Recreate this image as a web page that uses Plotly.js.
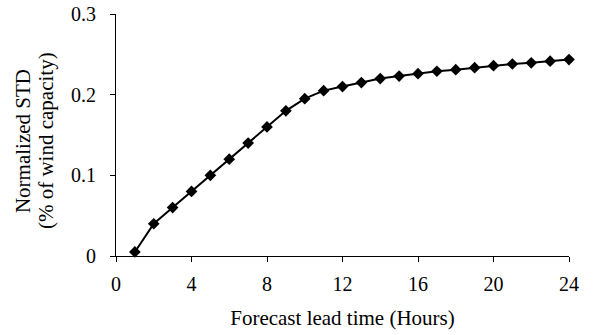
<!DOCTYPE html>
<html>
<head>
<meta charset="utf-8">
<script src="https://cdn.plot.ly/plotly-3.0.1.min.js"></script>
<style>html,body{margin:0;padding:0;background:#fff;}#chart{width:593px;height:335px;}</style>
</head>
<body>
<div id="chart"></div>
<script>
const leadHours = [1,2,3,4,5,6,7,8,9,10,11,12,13,14,15,16,17,18,19,20,21,22,23,24];
const normalizedStd = [0.005,0.04,0.06,0.08,0.1,0.12,0.14,0.16,0.18,0.195,0.205,0.21,0.215,0.22,0.223,0.226,0.229,0.231,0.2335,0.236,0.238,0.2395,0.2415,0.2435];
const xTicks = [0,4,8,12,16,20,24];
const yTicks = [0,0.1,0.2,0.3];
const yTickText = ['0','0.1','0.2','0.3'];
const yTitleLines = ['Normalized STD', '(% of wind capacity)'];

const family = '"Liberation Serif", "Times New Roman", serif';
const tickFont = {family: family, size: 20, color: '#000'};
const titleFont = {family: family, size: 21, color: '#000'};

const trace = {
  x: leadHours, y: normalizedStd, type: 'scatter', mode: 'lines+markers',
  line: {color: '#000', width: 2},
  marker: {symbol: 'diamond', size: 9, color: '#000'},
  cliponaxis: false, showlegend: false
};

const layout = {
  width: 593, height: 335,
  margin: {l: 116, r: 24, t: 14, b: 79},
  paper_bgcolor: '#fff', plot_bgcolor: '#fff',
  font: tickFont,
  xaxis: {
    range: [0, 24], tickvals: xTicks, ticktext: xTicks.map(String),
    showline: true, linecolor: '#000', linewidth: 1,
    ticks: 'outside', ticklen: 5, tickcolor: '#000',
    tickfont: tickFont, ticklabelstandoff: 5,
    showgrid: false, zeroline: false,
    title: {text: 'Forecast lead time (Hours)', font: titleFont, standoff: 16},
    automargin: false
  },
  yaxis: {
    range: [0, 0.3], tickvals: yTicks, ticktext: yTickText,
    showline: true, linecolor: '#000', linewidth: 1,
    ticks: 'outside', ticklen: 5, tickcolor: '#000',
    tickfont: tickFont, ticklabelstandoff: 10,
    showgrid: false, zeroline: false,
    automargin: false
  },
  annotations: [
    {text: yTitleLines[0], textangle: -90, xref: 'paper', yref: 'paper', x: 0, y: 0.475,
     xanchor: 'center', yanchor: 'middle', xshift: -93, showarrow: false, font: titleFont},
    {text: yTitleLines[1], textangle: -90, xref: 'paper', yref: 'paper', x: 0, y: 0.475,
     xanchor: 'center', yanchor: 'middle', xshift: -70, showarrow: false, font: titleFont}
  ]
};

Plotly.newPlot('chart', [trace], layout, {displayModeBar: false, staticPlot: true});
</script>
</body>
</html>
